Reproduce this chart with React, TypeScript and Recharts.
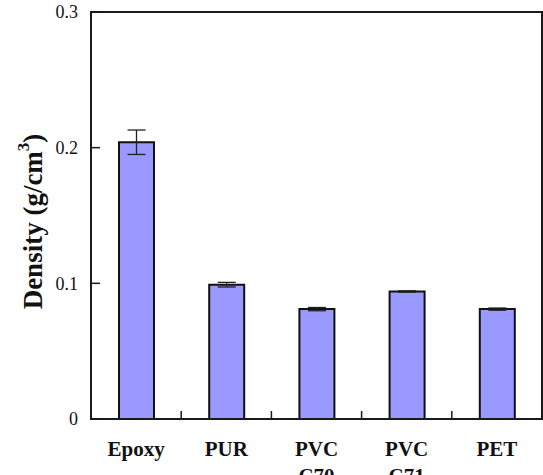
import { BarChart, Bar, XAxis, YAxis, ErrorBar, ReferenceArea } from "recharts";

const materials = ["Epoxy", "PUR", "PVC\nC70", "PVC\nC71", "PET"];
const density = [0.204, 0.099, 0.081, 0.094, 0.081];
const densityErr = [0.009, 0.0017, 0.0012, 0.0005, 0.0008];
const yTicks = [0, 0.1, 0.2, 0.3];

const FONT = "Liberation Serif, DejaVu Serif, Times New Roman, serif";
const INK = "#1a1a1a";

const data = materials.map((name, i) => ({
  name,
  density: density[i],
  err: densityErr[i],
}));

// category labels below, tick marks between categories pointing up
function XTick(props: any) {
  const { x, y, payload, index } = props;
  const half = payload?.offset ?? 45;
  const count = props.visibleTicksCount ?? materials.length;
  const lines = String(payload.value).split("\n");
  return (
    <g>
      {index < count - 1 && (
        <line x1={x + half} x2={x + half} y1={y} y2={y - 8} stroke={INK} strokeWidth={1.5} />
      )}
      <text x={x} y={y + 37} textAnchor="middle" style={{ fontFamily: FONT }} fontWeight="bold" fontSize={21} fill="#111">
        {lines.map((l, i) => (
          <tspan key={i} x={x} dy={i === 0 ? 0 : 27}>
            {l}
          </tspan>
        ))}
      </text>
    </g>
  );
}

// y tick marks point into the plot
function YTick(props: any) {
  const { x, y, payload } = props;
  const v = payload.value;
  return (
    <g>
      <line x1={x} x2={x + 9} y1={y} y2={y} stroke={INK} strokeWidth={1.5} />
      <text x={x - 13} y={y} dy="0.35em" textAnchor="end" style={{ fontFamily: FONT }} fontSize={18} fill="#111">
        {v === 0 ? "0" : v.toFixed(1)}
      </text>
    </g>
  );
}

function YLabel(props: any) {
  const vb = props.viewBox || { x: 0, y: 12, width: 91, height: 407 };
  const cx = 33;
  const cy = vb.y + vb.height / 2 + 6;
  return (
    <text
      x={cx}
      y={cy}
      transform={`rotate(-90, ${cx}, ${cy})`}
      textAnchor="middle"
      dominantBaseline="central"
      style={{ fontFamily: FONT }}
      fontWeight="bold"
      fontSize={27}
      fill="#111"
    >
      Density (g/cm<tspan fontSize={17} dy={-10}>3</tspan>
      <tspan dy={10}>)</tspan>
    </text>
  );
}

export default function App() {
  return (
    <div style={{ position: "absolute", left: 0, top: 0, background: "#fff", fontFamily: FONT }}>
      <BarChart
        width={543}
        height={475}
        data={data}
        margin={{ top: 12, right: 1, bottom: 0, left: 0 }}
        barSize={35}
      >
        <ReferenceArea
          x1={materials[0]}
          x2={materials[materials.length - 1]}
          y1={yTicks[0]}
          y2={yTicks[yTicks.length - 1]}
          fill="none"
          fillOpacity={0}
          stroke={INK}
          strokeWidth={2}
          ifOverflow="visible"
        />
        <XAxis
          dataKey="name"
          height={56}
          interval={0}
          tick={<XTick />}
          tickLine={false}
          tickSize={0}
          tickMargin={0}
          axisLine={{ stroke: INK, strokeWidth: 2 }}
        />
        <YAxis
          width={91}
          domain={[0, 0.3]}
          ticks={yTicks}
          interval={0}
          tick={<YTick />}
          tickLine={false}
          tickSize={0}
          tickMargin={0}
          axisLine={{ stroke: INK, strokeWidth: 2 }}
          label={<YLabel />}
        />
        <Bar dataKey="density" fill="#9999FF" stroke="#111" strokeWidth={2} isAnimationActive={false}>
          <ErrorBar dataKey="err" width={9} stroke="#222" strokeWidth={1.3} />
        </Bar>
      </BarChart>
    </div>
  );
}
